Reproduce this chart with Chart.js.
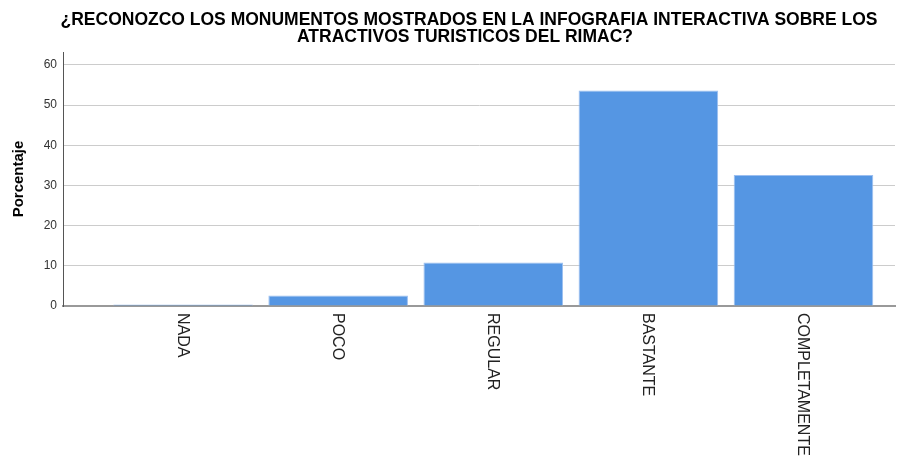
<!DOCTYPE html>
<html>
<head>
<meta charset="utf-8">
<script src="https://cdn.jsdelivr.net/npm/chart.js@4/dist/chart.umd.min.js"></script>
<style>
  body { margin: 0; background: #fff; }
  #wrap { width: 910px; height: 460px; }
</style>
</head>
<body>
<div id="wrap"><canvas id="monumentosChart" width="910" height="460"></canvas></div>
<script>
const categories = ["NADA", "POCO", "REGULAR", "BASTANTE", "COMPLETAMENTE"];
const percentages = [0.4, 2.6, 10.8, 53.6, 32.6];
const yTicks = [0, 10, 20, 30, 40, 50, 60];
const titleLines = [
  "¿RECONOZCO LOS MONUMENTOS MOSTRADOS EN LA INFOGRAFIA INTERACTIVA SOBRE LOS",
  "ATRACTIVOS TURISTICOS DEL RIMAC?"
];

// title + vertical category labels (read top to bottom)
const extraText = {
  id: "extraText",
  afterDraw(chart) {
    const ctx = chart.ctx;
    const xs = chart.scales.x;
    ctx.save();
    ctx.fillStyle = "#000";
    ctx.font = "bold 17.5px 'Liberation Sans', Arial, sans-serif";
    ctx.textAlign = "center";
    ctx.textBaseline = "middle";
    ctx.fillText(titleLines[0], 469, 20);
    ctx.fillText(titleLines[1], 465, 37);

    ctx.font = "16px 'Liberation Sans', Arial, sans-serif";
    ctx.fillStyle = "#222";
    ctx.textAlign = "left";
    categories.forEach((c, i) => {
      const px = xs.getPixelForValue(i);
      ctx.save();
      ctx.translate(px - 1, 313);
      ctx.rotate(Math.PI / 2);
      ctx.fillText(c, 0, 0);
      ctx.restore();
    });
    ctx.restore();
  }
};

new Chart(document.getElementById("monumentosChart"), {
  type: "bar",
  data: {
    datasets: [{
      data: percentages.map((v, i) => ({ x: i, y: v })),
      backgroundColor: "#5596e3",
      borderColor: "#9cbff0",
      borderWidth: 1,
      barPercentage: 1,
      categoryPercentage: 0.9
    }]
  },
  options: {
    responsive: false,
    animation: false,
    layout: { padding: { top: 52, right: 15, left: 0, bottom: 0 } },
    plugins: {
      legend: { display: false },
      tooltip: { enabled: false }
    },
    scales: {
      x: {
        type: "linear",
        offset: false,
        min: -0.774,
        max: 4.59,
        afterBuildTicks(scale) {
          scale.ticks = categories.map((c, i) => ({ value: i }));
        },
        afterFit(scale) { scale.height = 154; },
        ticks: { display: false },
        grid: { display: false, offset: false },
        border: { color: "#999", width: 2 }
      },
      y: {
        min: 0,
        max: 63.2,
        afterBuildTicks(scale) {
          scale.ticks = yTicks.map(v => ({ value: v }));
        },
        afterFit(scale) { scale.width = 63; },
        ticks: {
          color: "#333",
          font: { family: "'Liberation Sans', Arial, sans-serif", size: 12 },
          padding: 6
        },
        grid: { color: "#cccccc", drawTicks: false },
        border: { color: "#555", width: 1 },
        title: {
          display: true,
          text: "Porcentaje",
          color: "#000",
          font: { family: "'Liberation Sans', Arial, sans-serif", size: 15, weight: "bold" },
          padding: { top: 10, bottom: 4 }
        }
      }
    }
  },
  plugins: [extraText]
});
</script>
</body>
</html>
